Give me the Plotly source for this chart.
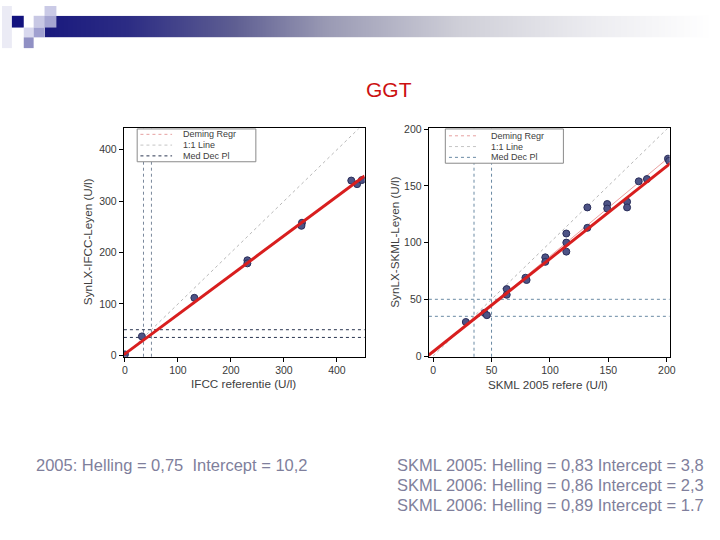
import numpy as np
import plotly.graph_objects as go

# ---------------- data ----------------
ifcc_x = [0, 32, 131, 231, 231, 334, 333, 427, 438, 447]
ifcc_y = [2, 37, 112, 185, 179, 258, 252, 340, 333, 341]
ifcc_deming_x = [-2, 452]
ifcc_deming_y = [1.5, 349]
ifcc_identity = [0, 460]

skml_x = [28, 44, 46, 63, 63, 79, 80, 96, 96, 114, 114, 114, 132, 132, 149, 149, 166, 166, 176, 183, 201, 202]
skml_y = [30, 38, 36, 59, 54, 69, 67, 87, 83, 108, 100, 92, 131, 113, 134, 130, 136, 131, 154, 156, 174, 172]
skml_deming_x = [-4, 204]
skml_deming_y = [0.7, 170.7]
skml_thin_x = [0, 204]
skml_thin_y = [2.3, 177]
skml_identity = [0, 210]

med_dec = [35, 50]

ifcc_ticks = [0, 100, 200, 300, 400]
skml_ticks = [0, 50, 100, 150, 200]

title_text = "GGT"
left_note = "2005: Helling = 0,75  Intercept = 10,2"
right_notes = ["SKML 2005: Helling = 0,83 Intercept = 3,8",
               "SKML 2006: Helling = 0,86 Intercept = 2,3",
               "SKML 2006: Helling = 0,89 Intercept = 1.7"]
legend_labels = ["Deming Regr", "1:1 Line", "Med Dec Pl"]

W, H = 720, 540
FONT = "Arial, Liberation Sans, sans-serif"


def px(x):
    return x / W


def py(y):
    return 1 - y / H


fig = go.Figure()

# header gradient (decoration)
grad = np.linspace(0, 1, 120)
fig.add_trace(go.Heatmap(z=[grad], xaxis="x3", yaxis="y3", showscale=False,
                         hoverinfo="skip", zsmooth="best",
                         colorscale=[[0, "#1a1a7e"], [0.12, "#2c2c84"], [0.28, "#5e5e92"],
                                     [0.42, "#9a9ab4"], [0.62, "#cfcfd8"], [0.82, "#ececf0"],
                                     [1, "#ffffff"]]))

marker = dict(size=7, color="#4d5385", line=dict(color="#2a2e5a", width=1))

# left plot
fig.add_trace(go.Scatter(x=ifcc_identity, y=ifcc_identity, mode="lines",
                         line=dict(color="#b8b8b8", width=1, dash="dot"), xaxis="x", yaxis="y"))
fig.add_trace(go.Scatter(x=ifcc_x, y=ifcc_y, mode="markers", marker=marker, xaxis="x", yaxis="y"))
fig.add_trace(go.Scatter(x=ifcc_deming_x, y=ifcc_deming_y, mode="lines",
                         line=dict(color="#d81e1e", width=3), xaxis="x", yaxis="y"))

# right plot
fig.add_trace(go.Scatter(x=skml_identity, y=skml_identity, mode="lines",
                         line=dict(color="#b8b8b8", width=1, dash="dot"), xaxis="x2", yaxis="y2"))
fig.add_trace(go.Scatter(x=skml_thin_x, y=skml_thin_y, mode="lines",
                         line=dict(color="#eaa0a0", width=1), xaxis="x2", yaxis="y2"))
fig.add_trace(go.Scatter(x=skml_x, y=skml_y, mode="markers", marker=marker, xaxis="x2", yaxis="y2"))
fig.add_trace(go.Scatter(x=skml_deming_x, y=skml_deming_y, mode="lines",
                         line=dict(color="#d81e1e", width=3), xaxis="x2", yaxis="y2"))

shapes = []
# med dec lines
for xa, ya, hcol, vcol in [("x", "y", "#2a3550", "#7a889c"), ("x2", "y2", "#6a8aa4", "#6a8aa4")]:
    for v in med_dec:
        shapes.append(dict(type="line", xref=xa, yref=ya + " domain", x0=v, x1=v, y0=0, y1=1,
                           line=dict(color=vcol, width=1, dash="dot"), layer="below"))
        shapes.append(dict(type="line", xref=xa + " domain", yref=ya, x0=0, x1=1, y0=v, y1=v,
                           line=dict(color=hcol, width=1, dash="dot"), layer="below"))

annotations = []
# legends (boxes drawn over the plot)
for (bx0, bx1, by0, by1, sx0, sx1, tx, rows, mcol) in [
        (136.7, 256.7, 125.5, 159, 140, 172, 181, [131, 142, 153], "#2a3550"),
        (448.3, 567.7, 125.5, 160.5, 452, 482, 492, [132.5, 143.5, 154.5], "#6a8aa4")]:
    shapes.append(dict(type="rect", xref="paper", yref="paper", x0=px(bx0), x1=px(bx1),
                       y0=py(by1), y1=py(by0), fillcolor="white",
                       line=dict(color="#8a8a8a", width=1), layer="above"))
    for lab, ry, col in zip(legend_labels, rows, ["#e6a0a0", "#c4c4c4", mcol]):
        shapes.append(dict(type="line", xref="paper", yref="paper", x0=px(sx0), x1=px(sx1),
                           y0=py(ry), y1=py(ry), line=dict(color=col, width=1, dash="dot"),
                           layer="above"))
        annotations.append(dict(text=lab, xref="paper", yref="paper", x=px(tx), y=py(ry),
                                xanchor="left", yanchor="middle", showarrow=False,
                                font=dict(family=FONT, size=9, color="#404040")))

# header squares (decoration)
squares = [
    (0, 0, 10, 43, "#ebebf5"),
    (10, 10, 22, 22, "#12127e"),
    (32, 10, 43, 22, "#c8c8e4"),
    (43, 0, 55, 10, "#cacae6"),
    (43, 10, 55, 22, "#a6a6d2"),
    (22, 22, 32, 32, "#d8d8ee"),
    (32, 22, 43, 32, "#a0a0d0"),
    (22, 32, 32, 43, "#9090c4"),
]
for x0, y0, x1, y1, c in squares:
    shapes.append(dict(type="rect", xref="paper", yref="paper", x0=px(x0), x1=px(x1),
                       y0=py(y1), y1=py(y0), fillcolor=c, line=dict(width=0), layer="above"))

# title and notes
annotations.append(dict(text=title_text, xref="paper", yref="paper", x=px(391), y=py(85),
                        xanchor="center", yanchor="middle", showarrow=False,
                        font=dict(family=FONT, size=21, color="#cc1111")))
annotations.append(dict(text=left_note, xref="paper", yref="paper", x=px(32), y=py(469),
                        xanchor="left", yanchor="middle", showarrow=False,
                        font=dict(family=FONT, size=16.5, color="#7f7f9c")))
for i, t in enumerate(right_notes):
    annotations.append(dict(text=t, xref="paper", yref="paper", x=px(397), y=py(469 + 20 * i),
                            xanchor="left", yanchor="middle", showarrow=False,
                            font=dict(family=FONT, size=16.5, color="#7f7f9c")))

# axis titles
axis_font = dict(family=FONT, size=11.7, color="#404040")
for t, x, y, ang in [("IFCC referentie (U/l)", 244, 385, 0),
                     ("SynLX-IFCC-Leyen (U/l)", 86, 241, -90),
                     ("SKML 2005 refere (U/l)", 552, 386, 0),
                     ("SynLX-SKML-Leyen (U/l)", 396, 241, -90)]:
    annotations.append(dict(text=t, xref="paper", yref="paper", x=px(x), y=py(y),
                            xanchor="center", yanchor="middle", showarrow=False,
                            textangle=ang, font=axis_font))

tick_font = dict(family=FONT, size=10.5, color="#3a3a3a")
ax_common = dict(showgrid=False, zeroline=False, showline=True, linecolor="black", linewidth=1.3,
                 mirror=True, ticks="outside", ticklen=4, tickcolor="black", tickfont=tick_font,
                 fixedrange=True)

fig.update_layout(
    width=W, height=H, margin=dict(l=0, r=0, t=0, b=0),
    paper_bgcolor="white", plot_bgcolor="white", showlegend=False,
    xaxis=dict(domain=[px(123.3), px(366.7)], range=[-1.9, 452.2], tickvals=ifcc_ticks,
               anchor="y", **ax_common),
    yaxis=dict(domain=[py(358), py(125)], range=[-2.5, 441.3], tickvals=ifcc_ticks,
               anchor="x", **ax_common),
    xaxis2=dict(domain=[px(431.7), px(675)], range=[-3.6, 202.3], tickvals=skml_ticks,
                anchor="y2", **ax_common),
    yaxis2=dict(domain=[py(358), py(125)], range=[-0.6, 200.6], tickvals=skml_ticks,
                anchor="x2", **ax_common),
    xaxis3=dict(domain=[px(43), 1], visible=False, anchor="y3", fixedrange=True),
    yaxis3=dict(domain=[py(32), py(10)], visible=False, anchor="x3", fixedrange=True),
    shapes=shapes, annotations=annotations,
)

fig.write_html("out.html", config={"displayModeBar": False},
               post_script="document.body.style.margin='0';document.body.style.overflow='hidden';")
